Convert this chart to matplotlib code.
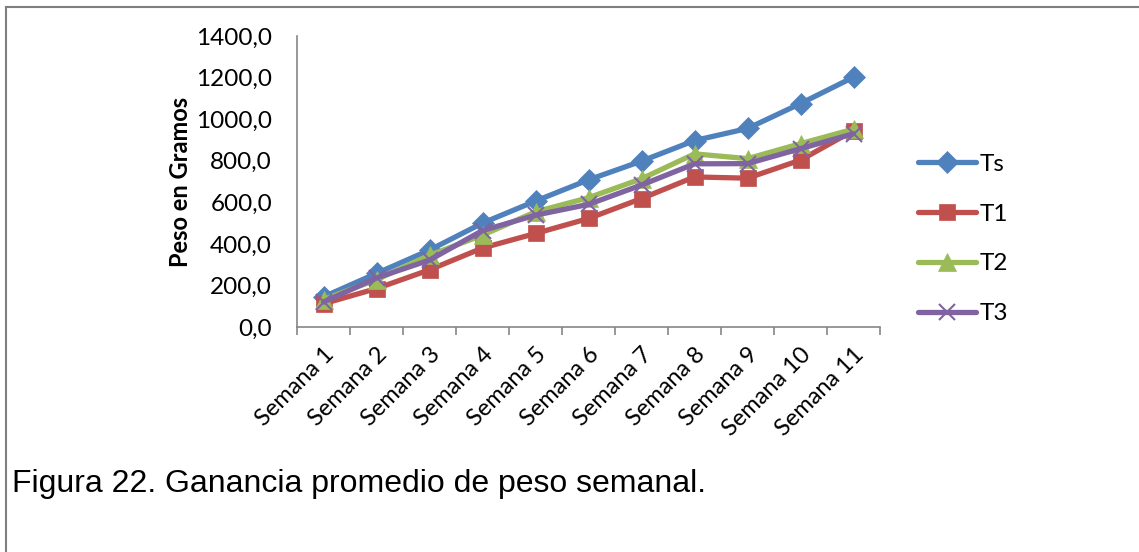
import matplotlib
matplotlib.use("Agg")
import matplotlib.pyplot as plt
from matplotlib.lines import Line2D
from matplotlib.ticker import FuncFormatter, FixedLocator

# data
semanas = ["Semana 1", "Semana 2", "Semana 3", "Semana 4", "Semana 5", "Semana 6",
           "Semana 7", "Semana 8", "Semana 9", "Semana 10", "Semana 11"]
ts = [145, 258, 370, 500, 606, 708, 798, 897, 955, 1075, 1202]
t1 = [112, 185, 275, 380, 450, 522, 618, 722, 716, 803, 945]
t2 = [132, 228, 345, 442, 554, 622, 713, 833, 810, 882, 952]
t3 = [120, 236, 322, 464, 538, 590, 683, 785, 786, 858, 930]

series = [("Ts", ts, "#4F81BD", "D", 11),
          ("T1", t1, "#C0504D", "s", 12),
          ("T2", t2, "#9BBB59", "^", 13),
          ("T3", t3, "#8064A2", "x", 12)]

plt.rcParams['font.family'] = ['Lato', 'DejaVu Sans']

fig = plt.figure(figsize=(11.39, 5.52), dpi=100)
ax = fig.add_axes([297/1139, 1 - 327/552, 583/1139, 291/552])

x = list(range(len(semanas)))
for name, vals, col, mk, ms in series:
    ax.plot(x, vals, color=col, linewidth=3.8, marker=mk, markersize=ms,
            markeredgecolor=col, markeredgewidth=1.5 if mk == "x" else 0.5,
            label=name, solid_capstyle="round")

ax.set_xlim(-0.5, len(semanas) - 0.5)
ax.set_ylim(0, 1400)
ax.set_yticks(range(0, 1401, 200))
ax.yaxis.set_major_formatter(FuncFormatter(lambda v, p: f"{v:.1f}".replace(".", ",")))
ax.tick_params(axis='y', length=0, labelsize=17.5, pad=18)

ax.set_xticks(x)
ax.set_xticklabels(semanas, rotation=45, ha='right', rotation_mode='anchor', fontsize=17)
ax.xaxis.set_minor_locator(FixedLocator([i - 0.5 for i in range(len(semanas) + 1)]))
ax.tick_params(axis='x', which='major', length=0, pad=12)
ax.tick_params(axis='x', which='minor', length=6, color='#868686', width=1.2)

for s in ['top', 'right']:
    ax.spines[s].set_visible(False)
for s in ['left', 'bottom']:
    ax.spines[s].set_color('#868686')
    ax.spines[s].set_linewidth(1.2)

ax.set_ylabel("Peso en Gramos", fontsize=17, fontweight='bold', labelpad=3)

leg = fig.legend(loc='center left', bbox_to_anchor=(908/1139, 1 - 239/552), frameon=False,
                 borderaxespad=0, fontsize=17.5, handlelength=2.4, labelspacing=1.18,
                 handletextpad=0.15)

# frame lines of the original page
fig.add_artist(Line2D([6/1139, 1], [1 - 7/552, 1 - 7/552], color='#7f7f7f', linewidth=1.5))
fig.add_artist(Line2D([6/1139, 6/1139], [0, 1 - 7/552], color='#7f7f7f', linewidth=1.5))

fig.text(12/1139, 1 - 492/552, "Figura 22. Ganancia promedio de peso semanal.",
         fontsize=23, family='Liberation Sans', va='baseline')

fig.savefig("out.png", dpi=100)
